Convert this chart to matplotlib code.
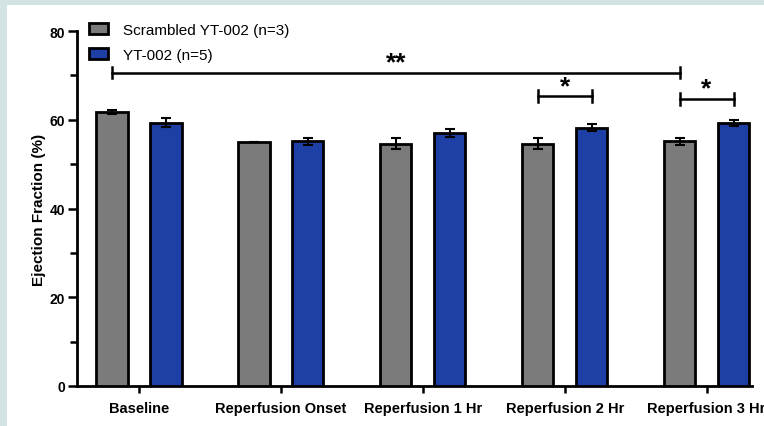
"""
Ejection fraction bar chart, scrambled vs YT-002
"""
import numpy as np
import matplotlib
matplotlib.use('Agg')
import matplotlib.pyplot as plt
from matplotlib.patches import Patch, Rectangle

plt.rcParams['font.family'] = ['Liberation Sans', 'DejaVu Sans']

categories = ['Baseline', 'Reperfusion Onset', 'Reperfusion 1 Hr',
              'Reperfusion 2 Hr', 'Reperfusion 3 Hr']
scrambled_mean = [61.7, 55.0, 54.6, 54.6, 55.2]
scrambled_err = [0.5, 0.0, 1.3, 1.2, 0.8]
yt002_mean = [59.3, 55.2, 57.1, 58.2, 59.3]
yt002_err = [1.0, 0.8, 0.9, 0.8, 0.7]
series_labels = ['Scrambled YT-002 (n=3)', 'YT-002 (n=5)']
y_ticks = [0, 20, 40, 60, 80]

# significance brackets: (from category, series), (to category, series), y, text
sig_brackets = [((0, 0), (4, 0), 70.6, '**'),
                ((3, 0), (3, 1), 65.3, '*'),
                ((4, 0), (4, 1), 64.7, '*')]

gray = '#7b7b7b'
blue = '#1d3fa6'
width = 0.22
offset = 0.19

fig = plt.figure(figsize=(7.64, 4.27), dpi=100, facecolor='#d3e2e2')
fig.add_artist(Rectangle((7 / 764, 0), 1, 1 - 6 / 427, transform=fig.transFigure,
                         facecolor='white', edgecolor='none', zorder=-10))
ax = fig.add_axes([77 / 764, 1 - 387 / 427, (752 - 77) / 764, (387 - 32) / 427])
ax.set_facecolor('none')

x = np.arange(len(categories))
ax.bar(x - offset, scrambled_mean, width, yerr=scrambled_err, color=gray,
       edgecolor='black', linewidth=2, capsize=3.5,
       error_kw=dict(elinewidth=1.5, capthick=1.5, ecolor='black'), zorder=3)
ax.bar(x + offset, yt002_mean, width, yerr=yt002_err, color=blue,
       edgecolor='black', linewidth=2, capsize=3.5,
       error_kw=dict(elinewidth=1.5, capthick=1.5, ecolor='black'), zorder=3)

# brackets
offs = [-offset, offset]
for (c0, s0), (c1, s1), yv, txt in sig_brackets:
    xa = c0 + offs[s0]
    xb = c1 + offs[s1]
    ax.plot([xa, xb], [yv, yv], color='black', lw=1.8, clip_on=False, zorder=4)
    for xx in (xa, xb):
        ax.plot([xx, xx], [yv - 1.3, yv + 1.3], color='black', lw=1.8,
                clip_on=False, zorder=4)
    ax.text((xa + xb) / 2, yv - 0.4, txt, ha='center', va='bottom',
            fontsize=19, fontweight='bold')

ax.set_xlim(-0.437, 4.32)
ax.set_ylim(0, 80)
ax.set_yticks(y_ticks)
ax.set_yticks([10, 30, 50, 70], minor=True)
ax.set_xticks(x)
ax.set_xticklabels(categories, fontsize=10.5, fontweight='bold')
ax.set_yticklabels([str(v) for v in y_ticks], fontsize=10, fontweight='bold')
ax.set_ylabel('Ejection Fraction (%)', fontsize=11, fontweight='bold', labelpad=3)

for side in ['top', 'right']:
    ax.spines[side].set_visible(False)
for side in ['left', 'bottom']:
    ax.spines[side].set_linewidth(2)
ax.tick_params(axis='y', which='major', length=6.5, width=1.8, pad=2)
ax.tick_params(axis='y', which='minor', length=5, width=1.8)
ax.tick_params(axis='x', length=5, width=1.8, pad=6)

handles = [Patch(facecolor=gray, edgecolor='black', linewidth=2),
           Patch(facecolor=blue, edgecolor='black', linewidth=2)]
fig.legend(handles, series_labels, loc='upper left',
           bbox_to_anchor=(89 / 764, 1 - 24 / 427), frameon=False, fontsize=11,
           handlelength=1.25, handleheight=0.75, handletextpad=0.95,
           labelspacing=0.7, borderpad=0, borderaxespad=0)

fig.savefig('out.png', dpi=100, facecolor=fig.get_facecolor())
